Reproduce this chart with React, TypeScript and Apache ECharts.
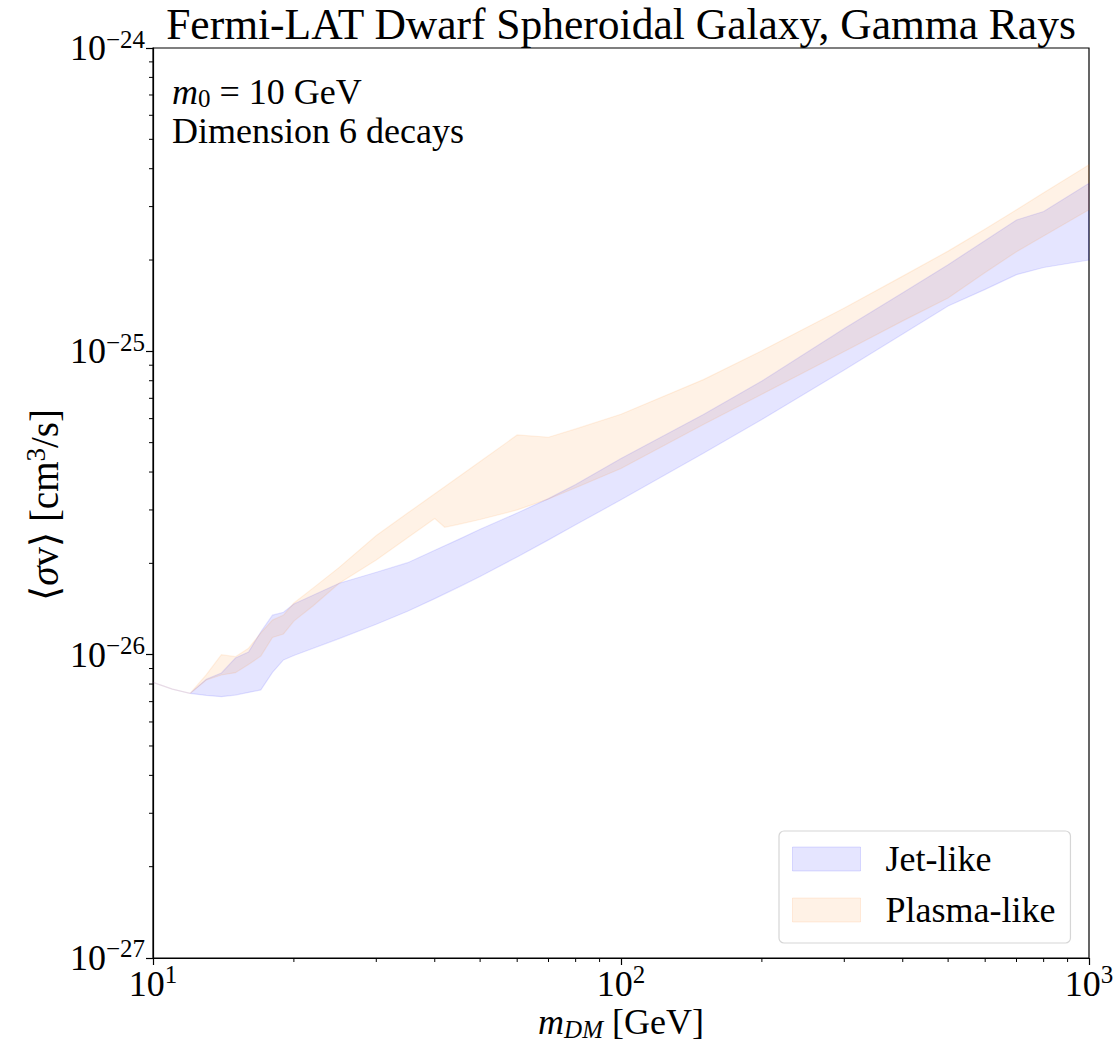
import React, { useEffect, useRef } from "react";
import * as echarts from "echarts";

// ---- data ----
const jetMass = [10, 11, 12, 13, 14, 15, 16, 17, 18, 19, 20, 25, 30, 35, 40, 45, 50, 60, 70, 80, 100, 150, 200, 300, 400, 500, 600, 700, 800, 1000];
const jetUpper = [8.1e-27, 7.7e-27, 7.45e-27, 8.3e-27, 8.7e-27, 9.75e-27, 1.02e-26, 1.19e-26, 1.35e-26, 1.38e-26, 1.47e-26, 1.72e-26, 1.87e-26, 2.01e-26, 2.21e-26, 2.40e-26, 2.59e-26, 2.93e-26, 3.27e-26, 3.64e-26, 4.43e-26, 6.19e-26, 7.98e-26, 1.19e-25, 1.56e-25, 1.93e-25, 2.32e-25, 2.71e-25, 2.89e-25, 3.58e-25];
const jetLower = [8.1e-27, 7.7e-27, 7.45e-27, 7.34e-27, 7.27e-27, 7.36e-27, 7.51e-27, 7.65e-27, 8.74e-27, 9.61e-27, 9.94e-27, 1.13e-26, 1.26e-26, 1.39e-26, 1.53e-26, 1.67e-26, 1.81e-26, 2.10e-26, 2.39e-26, 2.68e-26, 3.24e-26, 4.61e-26, 5.96e-26, 8.68e-26, 1.14e-25, 1.41e-25, 1.60e-25, 1.79e-25, 1.89e-25, 2.0e-25];

const plasmaMass = [10, 11, 12, 13, 14, 15, 16, 17, 18, 19, 20, 22, 25, 30, 35, 40, 42, 45, 50, 60, 70, 80, 100, 150, 200, 300, 400, 500, 600, 700, 800, 1000];
const plasmaUpper = [8.1e-27, 7.7e-27, 7.45e-27, 8.59e-27, 1.0e-26, 9.85e-27, 1.05e-26, 1.18e-26, 1.3e-26, 1.35e-26, 1.48e-26, 1.66e-26, 1.94e-26, 2.47e-26, 2.93e-26, 3.39e-26, 3.58e-26, 3.86e-26, 4.33e-26, 5.3e-26, 5.21e-26, 5.55e-26, 6.2e-26, 8.07e-26, 1.005e-25, 1.39e-25, 1.77e-25, 2.14e-25, 2.53e-25, 2.93e-25, 3.33e-25, 4.12e-25];
const plasmaLower = [8.1e-27, 7.7e-27, 7.45e-27, 8.25e-27, 8.57e-27, 8.72e-27, 9.28e-27, 9.89e-27, 1.14e-26, 1.17e-26, 1.29e-26, 1.45e-26, 1.72e-26, 2.05e-26, 2.43e-26, 2.81e-26, 2.63e-26, 2.69e-26, 2.79e-26, 3.0e-26, 3.26e-26, 3.55e-26, 4.11e-26, 5.74e-26, 7.22e-26, 9.99e-26, 1.26e-25, 1.5e-25, 1.82e-25, 2.13e-25, 2.4e-25, 2.93e-25];

const seriesNames = ["Jet-like", "Plasma-like"];
const xRange = [10, 1000];
const yRange = [1e-27, 1e-24];
const xMinorTicks = [20, 30, 40, 50, 60, 70, 80, 90, 200, 300, 400, 500, 600, 700, 800, 900];
const yMinorTicks = [2e-27, 3e-27, 4e-27, 5e-27, 6e-27, 7e-27, 8e-27, 9e-27, 2e-26, 3e-26, 4e-26, 5e-26, 6e-26, 7e-26, 8e-26, 9e-26, 2e-25, 3e-25, 4e-25, 5e-25, 6e-25, 7e-25, 8e-25, 9e-25];
const titleText = "Fermi-LAT Dwarf Spheroidal Galaxy, Gamma Rays";
const annotationLines = ["{i|m}{sub|0}{n| = 10 GeV}", "Dimension 6 decays"];
const xAxisName = "{i|m}{sub|DM}{n| [GeV]}";
const yAxisName = "{n|\u27E8}{i|\u03C3}{n|v\u27E9 [cm}{sup|3}{n|/s]}";

const FONT = "'Liberation Serif', 'DejaVu Serif', serif";
const JET_FILL = "rgba(0,0,255,0.1)";
const JET_EDGE = "rgba(0,0,255,0.1)";
const PL_FILL = "rgba(255,127,14,0.1)";
const PL_EDGE = "rgba(255,127,14,0.1)";

const TICK_FS = 36;
const SUP_FS = 25;
const TEXT_FS = 36;

function powLabel(v: number) {
  const e = Math.round(Math.log10(v));
  const s = e < 0 ? "\u2212" + -e : String(e);
  return `{b|10}{s|${s}}`;
}

const tickRich = {
  b: { fontFamily: FONT, fontSize: TICK_FS, color: "#000" },
  s: { fontFamily: FONT, fontSize: SUP_FS, color: "#000", padding: [0, 0, 18, 0] },
};

function bandSeries(name: string, mass: number[], upper: number[], lower: number[], fill: string, stroke: string) {
  return {
    type: "custom",
    name,
    coordinateSystem: "cartesian2d",
    data: mass.map((m, i) => [m, upper[i], lower[i]]),
    encode: { x: 0, y: [1, 2] },
    itemStyle: { color: fill },
    silent: true,
    z: 2,
    renderItem: (params: any, api: any) => {
      if (params.dataIndex !== 0) return null;
      const pts: number[][] = [];
      for (let i = 0; i < mass.length; i++) pts.push(api.coord([mass[i], upper[i]]));
      for (let i = mass.length - 1; i >= 0; i--) pts.push(api.coord([mass[i], lower[i]]));
      return {
        type: "polygon",
        shape: { points: pts },
        style: { fill, stroke, lineWidth: 1.2 },
      };
    },
  };
}

export default function App() {
  const ref = useRef<HTMLDivElement>(null);
  useEffect(() => {
    if (!ref.current) return;
    const chart = echarts.init(ref.current, undefined, { renderer: "svg" });
    const option: any = {
      animation: false,
      backgroundColor: "#fff",
      grid: {
        left: 153,
        top: 48,
        right: 26,
        bottom: 87,
        containLabel: false,
        outerBoundsMode: "none",
        show: true,
        borderColor: "#000",
        borderWidth: 1.2,
        backgroundColor: "transparent",
      },
      xAxis: {
        type: "log",
        logBase: 10,
        min: xRange[0] * 0.99999,
        max: xRange[1] * 1.00001,
        axisLine: { show: true, lineStyle: { color: "#000", width: 1.2 } },
        axisTick: { show: true, inside: false, length: 7, lineStyle: { color: "#000", width: 1.2 } },
        minorTick: { show: false },
        splitLine: { show: false },
        axisLabel: {
          formatter: powLabel,
          rich: tickRich,
          margin: 4,
          color: "#000",
          showMinLabel: true,
          showMaxLabel: true,
          hideOverlap: false,
        },
      },
      yAxis: {
        type: "log",
        logBase: 10,
        min: yRange[0] * 0.99999,
        max: yRange[1] * 1.00001,
        axisLine: { show: true, lineStyle: { color: "#000", width: 1.2 } },
        axisTick: { show: true, inside: false, length: 7, lineStyle: { color: "#000", width: 1.2 } },
        minorTick: { show: false },
        splitLine: { show: false },
        axisLabel: {
          formatter: powLabel,
          rich: tickRich,
          margin: 8,
          color: "#000",
          showMinLabel: true,
          showMaxLabel: true,
          hideOverlap: false,
        },
      },
      legend: {
        orient: "vertical",
        left: 779,
        top: 831,
        icon: "rect",
        itemWidth: 68,
        itemHeight: 24,
        itemGap: 15,
        padding: [10, 15, 15, 13],
        backgroundColor: "#fff",
        borderColor: "#d6d6d6",
        borderWidth: 1.2,
        borderRadius: 5,
        selectedMode: false,
        textStyle: { fontFamily: FONT, fontSize: TEXT_FS, color: "#000", padding: [0, 0, 0, 20] },
        data: [
          { name: seriesNames[0], itemStyle: { color: JET_FILL, borderColor: "rgba(0,0,255,0.12)", borderWidth: 1 } },
          { name: seriesNames[1], itemStyle: { color: PL_FILL, borderColor: "rgba(255,127,14,0.12)", borderWidth: 1 } },
        ],
      },
      graphic: [
        {
          type: "text",
          x: 621,
          y: 24,
          style: {
            text: titleText,
            fontFamily: FONT,
            fontSize: 43.5,
            fill: "#000",
            textAlign: "center",
            textVerticalAlign: "middle",
          },
        },
        {
          type: "text",
          x: 172,
          y: 92,
          style: {
            text: annotationLines[0],
            textVerticalAlign: "middle",
            rich: {
              i: { fontFamily: FONT, fontStyle: "italic", fontSize: TEXT_FS, fill: "#000", lineHeight: 32 },
              sub: { fontFamily: FONT, fontSize: 25, fill: "#000", lineHeight: 22, padding: [12, 0, 0, 0] },
              n: { fontFamily: FONT, fontSize: TEXT_FS, fill: "#000", lineHeight: 32 },
            },
          },
        },
        {
          type: "text",
          x: 172,
          y: 131,
          style: {
            text: annotationLines[1],
            fontFamily: FONT,
            fontSize: TEXT_FS,
            lineHeight: 34,
            fill: "#000",
            textVerticalAlign: "middle",
          },
        },
        {
          type: "text",
          x: 621,
          y: 1022,
          style: {
            text: xAxisName,
            textAlign: "center",
            textVerticalAlign: "middle",
            rich: {
              i: { fontFamily: FONT, fontStyle: "italic", fontSize: TICK_FS, fill: "#000" },
              sub: { fontFamily: FONT, fontStyle: "italic", fontSize: SUP_FS, fill: "#000", padding: [14, 0, 0, 0] },
              n: { fontFamily: FONT, fontSize: TICK_FS, fill: "#000" },
            },
          },
        },
        {
          type: "text",
          x: 44,
          y: 505,
          rotation: Math.PI / 2,
          style: {
            text: yAxisName,
            textAlign: "center",
            textVerticalAlign: "middle",
            rich: {
              i: { fontFamily: FONT, fontStyle: "italic", fontSize: 39, fill: "#000" },
              n: { fontFamily: FONT, fontSize: 39, fill: "#000" },
              sup: { fontFamily: FONT, fontSize: 27, fill: "#000", padding: [0, 0, 17, 0] },
            },
          },
        },
      ],
      series: [
        bandSeries(seriesNames[0], jetMass, jetUpper, jetLower, JET_FILL, JET_EDGE),
        bandSeries(seriesNames[1], plasmaMass, plasmaUpper, plasmaLower, PL_FILL, PL_EDGE),
        {
          type: "custom",
          name: "xMinor",
          coordinateSystem: "cartesian2d",
          data: xMinorTicks.map((v) => [v, yRange[0]]),
          encode: { x: 0, y: 1 },
          silent: true,
          clip: false,
          z: 5,
          renderItem: (params: any, api: any) => {
            const p = api.coord([api.value(0), yRange[0]]);
            return {
              type: "line",
              shape: { x1: p[0], y1: p[1], x2: p[0], y2: p[1] + 4 },
              style: { stroke: "#000", lineWidth: 1 },
            };
          },
        },
        {
          type: "custom",
          name: "yMinor",
          coordinateSystem: "cartesian2d",
          data: yMinorTicks.map((v) => [xRange[0], v]),
          encode: { x: 0, y: 1 },
          silent: true,
          clip: false,
          z: 5,
          renderItem: (params: any, api: any) => {
            const p = api.coord([xRange[0], api.value(1)]);
            return {
              type: "line",
              shape: { x1: p[0] - 4, y1: p[1], x2: p[0], y2: p[1] },
              style: { stroke: "#000", lineWidth: 1 },
            };
          },
        },
      ],
    };
    chart.setOption(option);
    return () => chart.dispose();
  }, []);
  return (
    <div
      ref={ref}
      style={{ position: "fixed", left: 0, top: 0, width: 1115, height: 1045, background: "#fff" }}
    />
  );
}
